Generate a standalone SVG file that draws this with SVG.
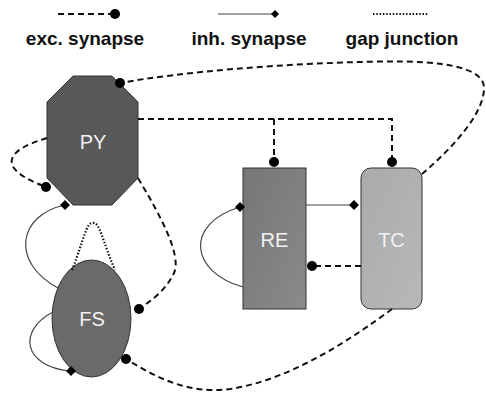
<svg xmlns="http://www.w3.org/2000/svg" width="486" height="395" viewBox="0 0 486 395">
<defs>
<style>
.exc{fill:none;stroke:#111;stroke-width:2;stroke-dasharray:6,4}
.inh{fill:none;stroke:#444;stroke-width:1.2}
.gap{fill:none;stroke:#111;stroke-width:2.2;stroke-dasharray:1.5,1.8}
.dot{fill:#000}
.node{stroke:#333;stroke-width:1}
.lbl{font-family:"Liberation Sans",Arial,sans-serif;font-size:20px;fill:#f2f2f2;text-anchor:middle}
.leg{font-family:"Liberation Sans",Arial,sans-serif;font-size:19px;font-weight:bold;fill:#111;text-anchor:middle}
</style>
<linearGradient id="gRE" x1="0" y1="0" x2="1" y2="1">
<stop offset="0" stop-color="#767676"/><stop offset="1" stop-color="#8a8a8a"/>
</linearGradient>
<linearGradient id="gTC" x1="0" y1="0" x2="1" y2="1">
<stop offset="0" stop-color="#aaaaaa"/><stop offset="1" stop-color="#b8b8b8"/>
</linearGradient>
</defs>
<g id="legend">
<line class="exc" x1="58" y1="14" x2="112" y2="14"/>
<circle class="dot" cx="115" cy="14" r="5"/>
<text class="leg" x="85" y="45">exc. synapse</text>
<line class="inh" x1="218" y1="14" x2="272" y2="14"/>
<polygon class="dot" points="275,10 279,14 275,18 271,14"/>
<text class="leg" x="249" y="45">inh. synapse</text>
<line class="gap" x1="373" y1="14" x2="428" y2="14"/>
<text class="leg" x="402" y="45">gap junction</text>
</g>
<g id="PY">
<polygon class="node" fill="#585858" points="73,76 112,76 138,102 138,178 112,205 73,205 47,178 47,102"/>
<text class="lbl" x="93" y="149">PY</text>
</g>
<g id="FS">
<ellipse class="node" fill="#6a6a6a" cx="91.5" cy="318.5" rx="39.5" ry="58.5"/>
<text class="lbl" x="92" y="326">FS</text>
</g>
<g id="RE">
<rect class="node" fill="url(#gRE)" x="243" y="168" width="63" height="141"/>
<text class="lbl" x="274.5" y="247">RE</text>
</g>
<g id="TC">
<rect class="node" fill="url(#gTC)" x="361" y="168" width="61" height="141" rx="10"/>
<text class="lbl" x="391.5" y="247">TC</text>
</g>
<g id="connectors">
<path class="exc" d="M422,174 C450,150 484,115 484,88 C484,62 420,60 360,62 C280,64 180,72 120,83"/>
<circle class="dot" cx="120" cy="83" r="5"/>
<path class="exc" d="M138,119 H392 V162 M274,119 V162"/>
<circle class="dot" cx="274" cy="162" r="5"/>
<circle class="dot" cx="392" cy="162" r="5"/>
<path class="exc" d="M47,138 C0,152 0,170 46,187"/>
<circle class="dot" cx="46" cy="187" r="5"/>
<path class="exc" d="M138,178 C160,215 182,255 174,273 C166,290 152,300 139,309"/>
<circle class="dot" cx="139" cy="309" r="5"/>
<path class="inh" d="M58,288 C10,262 18,215 65,205"/>
<polygon class="dot" points="65,200 70,205 65,210 60,205"/>
<path class="gap" d="M72,270 C84,240 86,222 93,223 C100,222 102,240 115,270"/>
<path class="inh" d="M53,312 C18,330 22,366 70,371"/>
<polygon class="dot" points="71,366 76,371 71,376 66,371"/>
<path class="exc" d="M392,309 C350,340 290,380 230,389 C190,394 160,380 126,359"/>
<circle class="dot" cx="126" cy="359" r="5"/>
<line class="inh" x1="306" y1="205" x2="350" y2="205"/>
<polygon class="dot" points="354,200 359,205 354,210 349,205"/>
<line class="exc" x1="361" y1="266" x2="316" y2="266"/>
<circle class="dot" cx="312" cy="266" r="5"/>
<path class="inh" d="M243,287 C190,272 184,224 240,207"/>
<polygon class="dot" points="240,202 245,207 240,212 235,207"/>
</g>
</svg>
